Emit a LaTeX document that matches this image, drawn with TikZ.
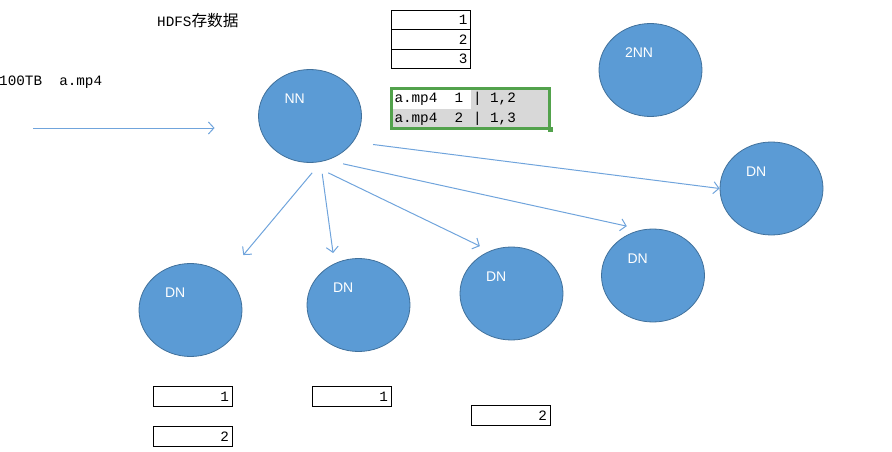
\documentclass[tikz,border=0pt]{standalone}
\usepackage{fontspec}
\setmonofont{Liberation Mono}
\newfontfamily\cjkfont{Noto Sans CJK SC}
\newfontfamily\blobfont{Liberation Sans}
\usepackage{tikz}
\usetikzlibrary{arrows.meta}
\usetikzlibrary{calc, fit, matrix, positioning, shapes.geometric}
\definecolor{nodeblue}{RGB}{91,155,213}
\definecolor{nodeedge}{RGB}{65,113,156}
\definecolor{linkblue}{RGB}{112,164,220}
\definecolor{selgreen}{RGB}{82,162,76}
\definecolor{selgray}{RGB}{216,216,216}
\newcommand{\blank}{\phantom{0}}
\tikzstyle{blob}=[ellipse, draw=nodeedge, fill=nodeblue, line width=0.8pt, minimum width=103pt, minimum height=93pt]
\tikzstyle{blobtext}=[font=\blobfont\fontsize{14pt}{16pt}\selectfont, text=white, inner sep=0pt, text width=30pt, align=left, xshift=-10.5pt, yshift=17pt]
\tikzstyle{cell}=[rectangle, draw, line width=0.8pt, outer sep=0pt, minimum width=79pt, minimum height=19.5pt, text width=73pt, inner xsep=3pt, inner ysep=0pt, align=right, font=\ttfamily\fontsize{14.3pt}{16pt}\selectfont]
\tikzstyle{selcell}=[rectangle, fill=selgray, outer sep=0pt, minimum width=78.5pt, text width=73.5pt, text height=12pt, text depth=4pt, inner xsep=2.5pt, inner ysep=1.75pt, align=left, font=\ttfamily\fontsize{14.3pt}{16pt}\selectfont]
\tikzstyle{link}=[->, draw=linkblue, line width=1pt]

\begin{document}
\begin{tikzpicture}[x=1pt, y=-1pt]

\tikzset{>={Straight Barb[length=5.5pt,width=12pt]}}
\tikzset{every node/.style={font=\ttfamily\fontsize{14.3pt}{16pt}\selectfont}}

\useasboundingbox (0,0) rectangle (892,452);

% Title and input file
\node[anchor=west, inner sep=0pt] (title) at (157,21) {HDFS{\cjkfont\fontsize{15.7pt}{16pt}\selectfont 存数据}};
\node[anchor=west, inner sep=0pt] (file) at (-1,82) {100TB\blank\blank a.mp4};

% Name nodes and data nodes
\node[blob, label={[blobtext]center:NN}] (nn) at (310,116) {};
\node[blob, label={[blobtext]center:2NN}] (nn2) at (650.5,70) {};
\node[blob, label={[blobtext]center:DN}] (dnr) at (771.5,188.5) {};
\node[blob, label={[blobtext]center:DN}] (dn1) at (190.5,310) {};
\node[blob, label={[blobtext]center:DN}] (dn2) at (358.5,305) {};
\node[blob, label={[blobtext]center:DN}] (dn3) at (511.5,293.5) {};
\node[blob, label={[blobtext]center:DN}] (dn4) at (653,275.5) {};

% Arrows
\coordinate (src) at (33,128);
\draw[link, shorten >=43.5pt] (src) -- (src -| nn.west); % file -> NN
\draw[link, shorten <=14.4pt, shorten >=27pt] (nn.-76) -- (dn1.44); % NN -> DN
\draw[link, shorten <=12pt, shorten >=10.5pt] (nn.-77) -- (dn2.120); % NN -> DN
\draw[link, shorten <=23pt, shorten >=11pt] (nn.-93) -- (dn3.117); % NN -> DN
\draw[link, shorten <=16.5pt, shorten >=16pt] (nn.-69) -- (dn4.103); % NN -> DN
\draw[link, shorten <=20pt] (nn.-31) -- (dnr.west); % NN -> DN

% Blocks of a.mp4
\node[cell] (blk1) at (431,20) {1};
\node[cell, below=0pt of blk1] (blk2) {2};
\node[cell, below=0pt of blk2] (blk3) {3};

% Metadata kept by NN
\matrix (meta) [
    matrix of nodes,
    nodes={selcell},
    inner sep=0pt,
    column sep=0pt,
    row sep=0pt,
] at (470.5,108.5)
{
    |[fill=white]| a.mp4\blank\blank 1 & \textbar\blank 1,2 \\
    a.mp4\blank\blank 2 & \textbar\blank 1,3 \\
};
\node[draw=selgreen, line width=2.5pt, fit=(meta), inner sep=0.5pt] (frame) {};
\node[fill=selgreen, minimum size=5pt, inner sep=0pt] (handle) at (frame.south east) {};

% Blocks stored on the data nodes
\node[cell] (dn1a) at (192.5,396.5) {1};
\node[cell] (dn1b) at (192.5,436.5) {2};
\node[cell] (dn2a) at (351.5,396.5) {1};
\node[cell] (dn3a) at (510.5,415.5) {2};

\end{tikzpicture}
\end{document}
